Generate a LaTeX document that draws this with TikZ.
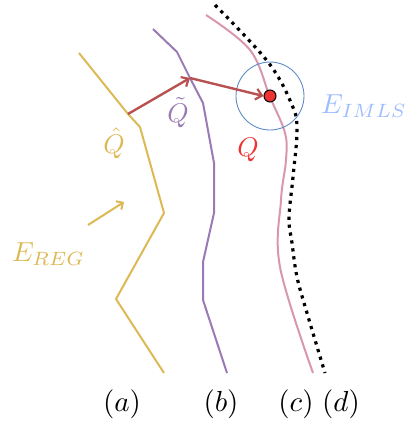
\documentclass[tikz,border=0pt]{standalone}
\usepackage{graphicx}
\usetikzlibrary{arrows.meta}
\definecolor{cyel}{HTML}{DDB955}
\definecolor{cpur}{HTML}{9A7AB4}
\definecolor{cpink}{HTML}{D896B0}
\definecolor{carr}{HTML}{B85252}
\definecolor{cdot}{HTML}{EE3333}
\definecolor{cblue}{HTML}{5E8CC8}
\definecolor{clblue}{HTML}{9DBDFF}
\newcommand{\lblmath}[1]{\scalebox{2.7}{$#1$}}
\newcommand{\sublblmath}[1]{\scalebox{2.9}{$#1$}}
\newcommand{\elblmath}[1]{\scalebox{2.75}{$#1$}}
\begin{document}
\begin{tikzpicture}[x=1pt,y=-1pt,
  curve/.style={line width=2pt,line join=round},
  redarrow/.style={line width=2.4pt,carr,-{Straight Barb[length=6pt,width=11pt,line width=2.2pt]}},
  lbl/.style={inner sep=0pt}]
\useasboundingbox (0,0) rectangle (406,423);
% (a) yellow
\draw[curve,cyel] (79,53) -- (128,114) coordinate (A) -- (140,127) -- (164,213) -- (116,299) -- (164,373);
% (b) purple
\draw[curve,cpur] (153,29) -- (177,52) -- (190,78) coordinate (B) -- (203,103) -- (214,163) -- (214,213) -- (203,262) -- (203,300) -- (227,373);
% (c) pink
\draw[curve,cpink] plot[smooth,tension=0.6] coordinates {(206,15) (250,50) (270,97) (285,133) (286,160) (281,200) (280,267) (313,373)};
% (d) dotted
\draw[line width=3.2pt,dash pattern=on 3.2pt off 4.8pt] plot[smooth,tension=0.6] coordinates {(215,5) (268,62) (292,105) (297,130) (293,177) (289,218) (292,243) (297,277) (307,313) (325,373)};
% circle and dot
\node[draw=cblue,line width=0.9pt,circle,minimum size=68pt,inner sep=0pt] (ring) at (270,96) {};
\node[draw=black,fill=cdot,line width=1pt,circle,minimum size=12pt,inner sep=0pt] (P) at (270,96) {};
% arrows
\draw[redarrow] (A) -- (B);
\draw[redarrow] (B) -- (P.west);
\draw[line width=2pt,cyel,-{Straight Barb[length=5pt,width=10pt,line width=2pt]}] (88,225) coordinate (r0) -- (124,202) coordinate (r1);
% labels
\node[lbl,text=cyel] (qhat) at (114,143) {\lblmath{\hat{Q}}};
\node[lbl,text=cpur] (qtil) at (178,113) {\lblmath{\tilde{Q}}};
\node[lbl,text=cdot] (q) at (248,150) {\lblmath{Q}};
\node[lbl,text=cyel,anchor=base west] (ereg) at (12,261) {\elblmath{E_{REG}}};
\node[lbl,text=clblue,anchor=base west] (eimls) at (321,113) {\elblmath{E_{IMLS}}};
\node[lbl,anchor=base] (la) at (122,411) {\sublblmath{(a)}};
\node[lbl,anchor=base] (lb) at (221,411) {\sublblmath{(b)}};
\node[lbl,anchor=base] (lc) at (296,411) {\sublblmath{(c)}};
\node[lbl,anchor=base] (ld) at (341,411) {\sublblmath{(d)}};
\end{tikzpicture}
\end{document}
